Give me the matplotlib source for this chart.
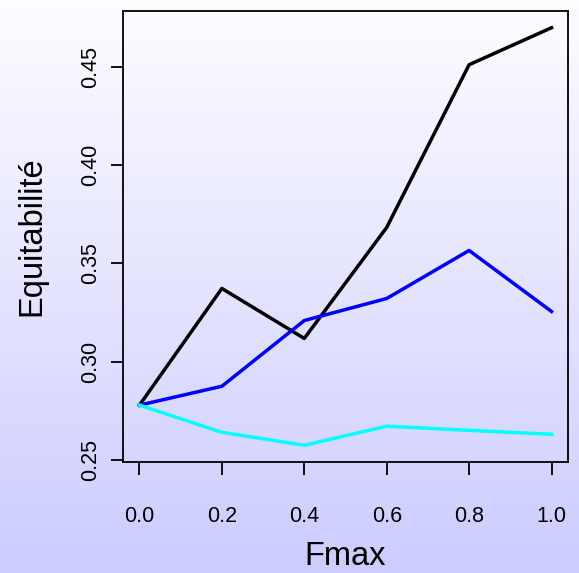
import numpy as np
import matplotlib
matplotlib.use("Agg")
import matplotlib.pyplot as plt
from matplotlib.colors import LinearSegmentedColormap

plt.rcParams['font.family'] = ['Liberation Sans', 'DejaVu Sans']

fmax = [0.0, 0.2, 0.4, 0.6, 0.8, 1.0]
serie_noire = [0.278, 0.3373, 0.3119, 0.3683, 0.451, 0.4698]
serie_bleue = [0.278, 0.2876, 0.321, 0.3322, 0.3566, 0.3256]
serie_cyan = [0.278, 0.2642, 0.2576, 0.2673, 0.2652, 0.2632]
yticks = [0.25, 0.30, 0.35, 0.40, 0.45]
xticks = [0.0, 0.2, 0.4, 0.6, 0.8, 1.0]

fig = plt.figure(figsize=(5.79, 5.73), dpi=100)

# fond en dégradé blanc -> lavande
bg = fig.add_axes([0, 0, 1, 1], zorder=-10)
cmap = LinearSegmentedColormap.from_list("fond", ["#fdfdff", "#ccccff"])
bg.imshow(np.linspace(0, 1, 256).reshape(-1, 1), aspect='auto', cmap=cmap,
          extent=[0, 1, 0, 1])
bg.axis('off')

ax = fig.add_axes([0.2124, 0.1937, 0.981 - 0.2124, 0.9808 - 0.1937])
ax.patch.set_alpha(0)
ax.plot(fmax, serie_noire, color='black', lw=2.5)
ax.plot(fmax, serie_bleue, color='#0000ff', lw=2.5)
ax.plot(fmax, serie_cyan, color='#00ffff', lw=2.5)

ax.set_xlim(-0.04, 1.04)
ax.set_ylim(0.2491, 0.4783)
ax.set_xticks(xticks)
ax.set_xticklabels(["%.1f" % v for v in xticks])
ax.set_yticks(yticks)
ax.set_yticklabels(["%.2f" % v for v in yticks], rotation=90, va='center')
ax.tick_params(direction='out', length=9, width=1.3, labelsize=15.5)
ax.tick_params(axis='x', pad=23)
ax.tick_params(axis='y', pad=7)
for s in ax.spines.values():
    s.set_linewidth(1.3)

ax.set_xlabel("Fmax", fontsize=23.5, labelpad=10)
ax.set_ylabel("Equitabilité", fontsize=23.5, labelpad=23)

fig.savefig("out.png", dpi=100)
